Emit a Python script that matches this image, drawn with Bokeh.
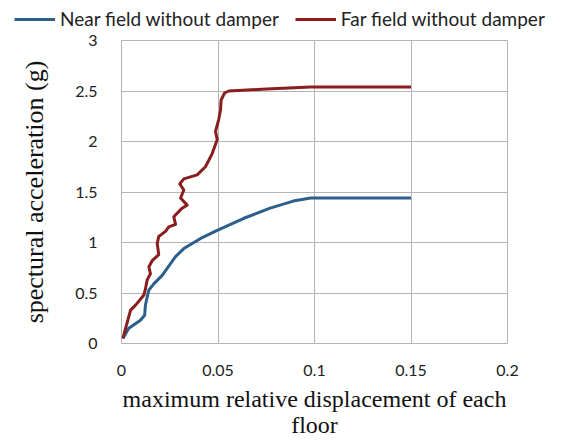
from bokeh.plotting import figure
from bokeh.layouts import column, row
from bokeh.models import Range1d, FixedTicker, Legend, LegendItem
from bokeh.embed import file_html
from bokeh.resources import INLINE

# Data
near_x = [0.0007, 0.0038, 0.0098, 0.012, 0.0124, 0.0133, 0.0142, 0.0167, 0.0211, 0.0254,
          0.028, 0.0323, 0.041, 0.0496, 0.0634, 0.077, 0.089, 0.098, 0.110, 0.130, 0.150]
near_y = [0.05, 0.15, 0.23, 0.28, 0.38, 0.46, 0.53, 0.59, 0.675, 0.79,
          0.86, 0.94, 1.04, 1.12, 1.24, 1.34, 1.41, 1.44, 1.44, 1.44, 1.44]

far_x = [0.0007, 0.0047, 0.0073, 0.0116, 0.0124, 0.0133, 0.015, 0.0142, 0.0159, 0.0193,
         0.0185, 0.0193, 0.0228, 0.0245, 0.028, 0.0271, 0.0314, 0.034, 0.0306, 0.0323,
         0.0302, 0.0323, 0.0392, 0.0435, 0.047, 0.0496, 0.0487, 0.0504, 0.0513, 0.0516,
         0.0534, 0.0556, 0.075, 0.098, 0.120, 0.150]
far_y = [0.05, 0.33, 0.38, 0.48, 0.54, 0.63, 0.69, 0.76, 0.82, 0.88,
         0.99, 1.06, 1.11, 1.155, 1.18, 1.255, 1.34, 1.37, 1.44, 1.52,
         1.58, 1.63, 1.67, 1.75, 1.88, 2.02, 2.10, 2.22, 2.31, 2.41,
         2.48, 2.50, 2.52, 2.54, 2.54, 2.54]

x_ticks = [0, 0.05, 0.1, 0.15, 0.2]
x_tick_labels = ["0", "0.05", "0.1", "0.15", "0.2"]
y_ticks = [0, 0.5, 1, 1.5, 2, 2.5, 3]
y_tick_labels = ["0", "0.5", "1", "1.5", "2", "2.5", "3"]

series_names = ["Near field without damper", "Far field without damper"]
x_title = "maximum relative displacement of each\nfloor"
y_title = "spectural acceleration (g)"

BLUE = "#2C5F8C"
RED = "#8A1E1E"
GRID = "#B5B5B5"

# ---- legend strip on top (its own frame spans the full width) ----
leg = figure(width=573, height=30, output_backend="svg", toolbar_location=None,
             x_axis_type=None, y_axis_type=None,
             min_border_left=0, min_border_right=0, min_border_top=0, min_border_bottom=0,
             x_range=Range1d(0, 1), y_range=Range1d(0, 1))
leg.grid.visible = False
leg.outline_line_color = None
lr1 = leg.line([-10, -9], [-10, -9], line_color=BLUE, line_width=3)
lr2 = leg.line([-10, -9], [-10, -9], line_color=RED, line_width=3)
legend = Legend(items=[LegendItem(label=series_names[0], renderers=[lr1]),
                       LegendItem(label=series_names[1], renderers=[lr2])],
                orientation="horizontal", location=(14, 0),
                padding=0, margin=0, spacing=16, glyph_width=41, glyph_height=22,
                label_height=22, label_standoff=5, border_line_color=None,
                background_fill_alpha=0,
                label_text_font="Lato", label_text_font_size="19px",
                label_text_color="#222222")
leg.add_layout(legend, "center")

# ---- main chart ----
p = figure(width=573, height=411, output_backend="svg", toolbar_location=None,
           x_range=Range1d(0, 0.2), y_range=Range1d(0, 3),
           min_border_left=121, min_border_right=66, min_border_top=10,
           min_border_bottom=98)

p.xaxis.ticker = FixedTicker(ticks=x_ticks)
p.yaxis.ticker = FixedTicker(ticks=y_ticks)
p.xaxis.major_label_overrides = {t: l for t, l in zip(x_ticks, x_tick_labels)}
p.yaxis.major_label_overrides = {t: l for t, l in zip(y_ticks, y_tick_labels)}

for ax in (p.xaxis, p.yaxis):
    ax.axis_line_color = None
    ax.major_tick_line_color = None
    ax.minor_tick_line_color = None
    ax.major_label_text_font = "Lato"
    ax.major_label_text_font_size = "16px"
    ax.major_label_text_color = "#222222"
    ax.axis_label_text_font = "Liberation Serif"
    ax.axis_label_text_font_style = "normal"
    ax.axis_label_text_color = "#111111"
    ax.axis_label_text_line_height = 1.0

p.xaxis.axis_label_text_font_size = "24px"
p.yaxis.axis_label_text_font_size = "26px"
p.xaxis.major_label_standoff = 15
p.yaxis.major_label_standoff = 18
p.xaxis.axis_label = x_title
p.yaxis.axis_label = y_title
p.xaxis.axis_label_standoff = 7
p.yaxis.axis_label_standoff = 23

p.xgrid.grid_line_color = GRID
p.ygrid.grid_line_color = GRID
p.outline_line_color = GRID
p.background_fill_color = "white"
p.border_fill_color = "white"

p.line(near_x, near_y, line_color=BLUE, line_width=3, line_join="round")
p.line(far_x, far_y, line_color=RED, line_width=3, line_join="round")

layout = column(row(leg, spacing=0), row(p, spacing=0), spacing=0)
open("out.html", "w").write(file_html(layout, INLINE))
